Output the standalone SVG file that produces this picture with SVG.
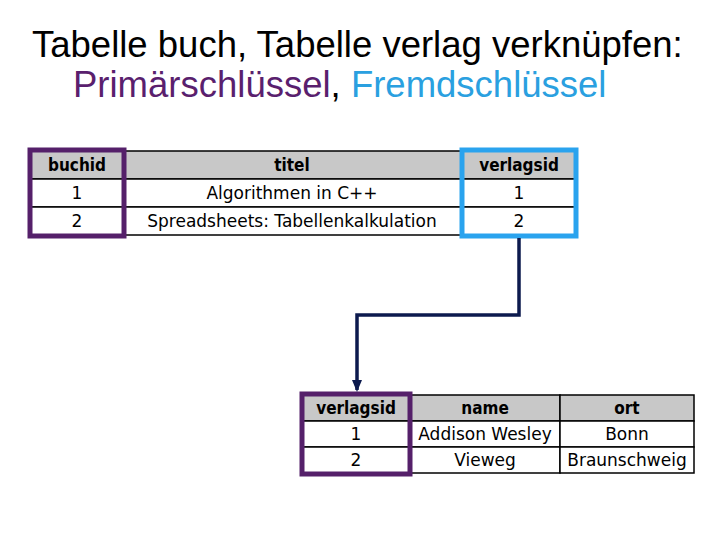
<svg xmlns="http://www.w3.org/2000/svg" width="720" height="540" viewBox="0 0 720 540">
<style>
.t{font-family:"Liberation Sans",Arial,sans-serif;font-size:36.5px;fill:#000}
.h{font-family:"DejaVu Sans Condensed","Liberation Sans",sans-serif;font-weight:bold;font-size:17px;text-anchor:middle}
.c{font-family:"DejaVu Sans","Liberation Sans",sans-serif;font-size:17px;text-anchor:middle}
.hd{fill:#c8c8c8;stroke:#000;stroke-width:1.5}
.cl{fill:#fff;stroke:#000;stroke-width:1.5}
.pk{fill:none;stroke:#55206a;stroke-width:5}
.fk{fill:none;stroke:#2aa3ee;stroke-width:5}
</style>
<defs><marker id="ar" markerWidth="12" markerHeight="12" refX="6" refY="10" orient="0" markerUnits="userSpaceOnUse" viewBox="0 0 12 12"><path d="M1,0 L11,0 L6,12 Z" fill="#0c1a4e"/></marker></defs>
<text class="t" x="32" y="57">Tabelle buch, Tabelle verlag verknüpfen:</text>
<text class="t" x="73" y="97"><tspan fill="#5a1f6e">Primärschlüssel</tspan>, <tspan fill="#2aa0e0">Fremdschlüssel</tspan></text>
<g id="buch">
<rect class="hd" x="31" y="151" width="92" height="28"/><rect class="hd" x="123" y="151" width="338" height="28"/><rect class="hd" x="461" y="151" width="115" height="28"/>
<rect class="cl" x="31" y="179" width="92" height="28"/><rect class="cl" x="123" y="179" width="338" height="28"/><rect class="cl" x="461" y="179" width="115" height="28"/>
<rect class="cl" x="31" y="207" width="92" height="28"/><rect class="cl" x="123" y="207" width="338" height="28"/><rect class="cl" x="461" y="207" width="115" height="28"/>
<text class="h" x="77" y="171">buchid</text><text class="h" x="292" y="171">titel</text><text class="h" x="519" y="171">verlagsid</text>
<text class="c" x="77" y="199">1</text><text class="c" x="292" y="199">Algorithmen in C++</text><text class="c" x="519" y="199">1</text>
<text class="c" x="77" y="227">2</text><text class="c" x="292" y="227">Spreadsheets: Tabellenkalkulation</text><text class="c" x="519" y="227">2</text>
<rect class="pk" x="30" y="150" width="94" height="86"/>
<rect class="fk" x="462" y="150" width="114" height="86"/>
</g>
<g id="verlag">
<rect class="hd" x="303" y="395" width="108" height="26"/><rect class="hd" x="411" y="395" width="149" height="26"/><rect class="hd" x="560" y="395" width="134" height="26"/>
<rect class="cl" x="303" y="421" width="108" height="26"/><rect class="cl" x="411" y="421" width="149" height="26"/><rect class="cl" x="560" y="421" width="134" height="26"/>
<rect class="cl" x="303" y="447" width="108" height="26"/><rect class="cl" x="411" y="447" width="149" height="26"/><rect class="cl" x="560" y="447" width="134" height="26"/>
<text class="h" x="356" y="414">verlagsid</text><text class="h" x="485" y="414">name</text><text class="h" x="627" y="414">ort</text>
<text class="c" x="356" y="440">1</text><text class="c" x="485" y="440">Addison Wesley</text><text class="c" x="627" y="440">Bonn</text>
<text class="c" x="356" y="466">2</text><text class="c" x="485" y="466">Vieweg</text><text class="c" x="627" y="466">Braunschweig</text>
<rect class="pk" x="302" y="394" width="108" height="80"/>
</g>
<g id="connectors">
<path d="M519,238 V315 H357 V390" fill="none" stroke="#0c1a4e" stroke-width="3.5" marker-end="url(#ar)"/>
</g>
</svg>
